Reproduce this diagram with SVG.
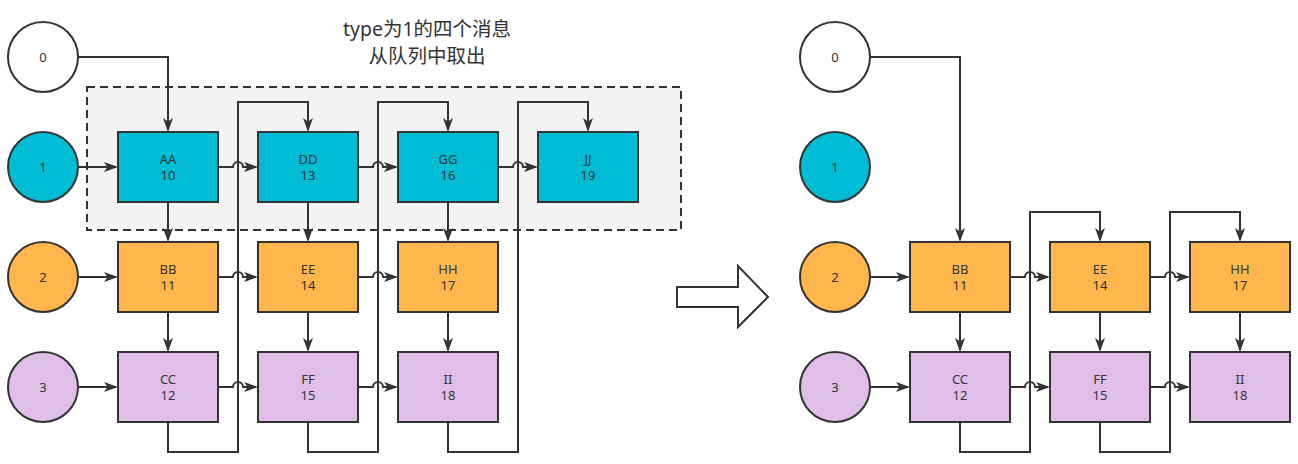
<svg xmlns="http://www.w3.org/2000/svg" width="1298" height="464" viewBox="0 0 1298 464">
<style>
.c{stroke:#333;stroke-width:2}
.r{stroke:#333;stroke-width:2}
.cy{fill:#00BCD4}
.or{fill:#FFB74D}
.pu{fill:#E1BEE7}
.wh{fill:#fff}
.t{font-family:"Noto Sans","Noto Sans CJK SC",sans-serif;font-size:13px;fill:#333;text-anchor:middle}
.ttl{font-family:"Noto Sans","Noto Sans CJK SC",sans-serif;font-size:19.5px;fill:#333;text-anchor:middle}
.ln{fill:none;stroke:#333;stroke-width:2;marker-end:url(#ah)}
</style>
<defs>
<marker id="ah" viewBox="0 0 14 10" refX="12" refY="5" markerWidth="14" markerHeight="10" markerUnits="userSpaceOnUse" orient="auto">
<path d="M0,0 L14,5 L0,10 L3.5,5 Z" fill="#333"/>
</marker>
</defs>
<rect x="0" y="0" width="1298" height="464" fill="#fff"/>
<g id="title">
<text class="ttl" x="427" y="36">type为1的四个消息</text>
<text class="ttl" x="427" y="63">从队列中取出</text>
</g>
<g id="group-box">
<rect x="87" y="87" width="594" height="143" fill="#f4f4f4" stroke="#333" stroke-width="2" stroke-dasharray="8,5"/>
</g>
<g id="connectors">
<path class="ln" d="M78,57 H168 V130"/>
<path class="ln" d="M78,167 H116"/>
<path class="ln" d="M78,277 H116"/>
<path class="ln" d="M78,387 H116"/>
<path class="ln" d="M218,167 H233 A5,5 0 0 1 243,167 H256"/>
<path class="ln" d="M358,167 H373 A5,5 0 0 1 383,167 H396"/>
<path class="ln" d="M498,167 H513 A5,5 0 0 1 523,167 H536"/>
<path class="ln" d="M218,277 H233 A5,5 0 0 1 243,277 H256"/>
<path class="ln" d="M358,277 H373 A5,5 0 0 1 383,277 H396"/>
<path class="ln" d="M218,387 H233 A5,5 0 0 1 243,387 H256"/>
<path class="ln" d="M358,387 H373 A5,5 0 0 1 383,387 H396"/>
<path class="ln" d="M168,202 V240"/>
<path class="ln" d="M308,202 V240"/>
<path class="ln" d="M448,202 V240"/>
<path class="ln" d="M168,312 V350"/>
<path class="ln" d="M308,312 V350"/>
<path class="ln" d="M448,312 V350"/>
<path class="ln" d="M168,422 V452 H238 V102 H308 V130"/>
<path class="ln" d="M308,422 V452 H378 V102 H448 V130"/>
<path class="ln" d="M448,422 V452 H518 V102 H588 V130"/>
<path class="ln" d="M870,57 H960 V240"/>
<path class="ln" d="M870,277 H908"/>
<path class="ln" d="M870,387 H908"/>
<path class="ln" d="M1010,277 H1025 A5,5 0 0 1 1035,277 H1048"/>
<path class="ln" d="M1150,277 H1165 A5,5 0 0 1 1175,277 H1188"/>
<path class="ln" d="M1010,387 H1025 A5,5 0 0 1 1035,387 H1048"/>
<path class="ln" d="M1150,387 H1165 A5,5 0 0 1 1175,387 H1188"/>
<path class="ln" d="M960,312 V350"/>
<path class="ln" d="M1100,312 V350"/>
<path class="ln" d="M1240,312 V350"/>
<path class="ln" d="M960,422 V452 H1030 V212 H1100 V240"/>
<path class="ln" d="M1100,422 V452 H1170 V212 H1240 V240"/>
</g>
<g id="big-arrow">
<polygon points="677,287 738,287 738,266 768,297 738,327 738,307 677,307" fill="#fff" stroke="#333" stroke-width="2"/>
</g>
<g id="L-q0"><circle class="c wh" cx="43" cy="57" r="35"/><text class="t" x="43" y="62">0</text></g>
<g id="L-q1"><circle class="c cy" cx="43" cy="167" r="35"/><text class="t" x="43" y="172">1</text></g>
<g id="L-q2"><circle class="c or" cx="43" cy="277" r="35"/><text class="t" x="43" y="282">2</text></g>
<g id="L-q3"><circle class="c pu" cx="43" cy="387" r="35"/><text class="t" x="43" y="392">3</text></g>
<g id="L-AA"><rect class="r cy" x="118" y="132" width="100" height="70"/><text class="t" x="168" y="164">AA</text><text class="t" x="168" y="180">10</text></g>
<g id="L-DD"><rect class="r cy" x="258" y="132" width="100" height="70"/><text class="t" x="308" y="164">DD</text><text class="t" x="308" y="180">13</text></g>
<g id="L-GG"><rect class="r cy" x="398" y="132" width="100" height="70"/><text class="t" x="448" y="164">GG</text><text class="t" x="448" y="180">16</text></g>
<g id="L-JJ"><rect class="r cy" x="538" y="132" width="100" height="70"/><text class="t" x="588" y="164">JJ</text><text class="t" x="588" y="180">19</text></g>
<g id="L-BB"><rect class="r or" x="118" y="242" width="100" height="70"/><text class="t" x="168" y="274">BB</text><text class="t" x="168" y="290">11</text></g>
<g id="L-EE"><rect class="r or" x="258" y="242" width="100" height="70"/><text class="t" x="308" y="274">EE</text><text class="t" x="308" y="290">14</text></g>
<g id="L-HH"><rect class="r or" x="398" y="242" width="100" height="70"/><text class="t" x="448" y="274">HH</text><text class="t" x="448" y="290">17</text></g>
<g id="L-CC"><rect class="r pu" x="118" y="352" width="100" height="70"/><text class="t" x="168" y="384">CC</text><text class="t" x="168" y="400">12</text></g>
<g id="L-FF"><rect class="r pu" x="258" y="352" width="100" height="70"/><text class="t" x="308" y="384">FF</text><text class="t" x="308" y="400">15</text></g>
<g id="L-II"><rect class="r pu" x="398" y="352" width="100" height="70"/><text class="t" x="448" y="384">II</text><text class="t" x="448" y="400">18</text></g>
<g id="R-q0"><circle class="c wh" cx="835" cy="57" r="35"/><text class="t" x="835" y="62">0</text></g>
<g id="R-q1"><circle class="c cy" cx="835" cy="167" r="35"/><text class="t" x="835" y="172">1</text></g>
<g id="R-q2"><circle class="c or" cx="835" cy="277" r="35"/><text class="t" x="835" y="282">2</text></g>
<g id="R-q3"><circle class="c pu" cx="835" cy="387" r="35"/><text class="t" x="835" y="392">3</text></g>
<g id="R-BB"><rect class="r or" x="910" y="242" width="100" height="70"/><text class="t" x="960" y="274">BB</text><text class="t" x="960" y="290">11</text></g>
<g id="R-EE"><rect class="r or" x="1050" y="242" width="100" height="70"/><text class="t" x="1100" y="274">EE</text><text class="t" x="1100" y="290">14</text></g>
<g id="R-HH"><rect class="r or" x="1190" y="242" width="100" height="70"/><text class="t" x="1240" y="274">HH</text><text class="t" x="1240" y="290">17</text></g>
<g id="R-CC"><rect class="r pu" x="910" y="352" width="100" height="70"/><text class="t" x="960" y="384">CC</text><text class="t" x="960" y="400">12</text></g>
<g id="R-FF"><rect class="r pu" x="1050" y="352" width="100" height="70"/><text class="t" x="1100" y="384">FF</text><text class="t" x="1100" y="400">15</text></g>
<g id="R-II"><rect class="r pu" x="1190" y="352" width="100" height="70"/><text class="t" x="1240" y="384">II</text><text class="t" x="1240" y="400">18</text></g>
</svg>
